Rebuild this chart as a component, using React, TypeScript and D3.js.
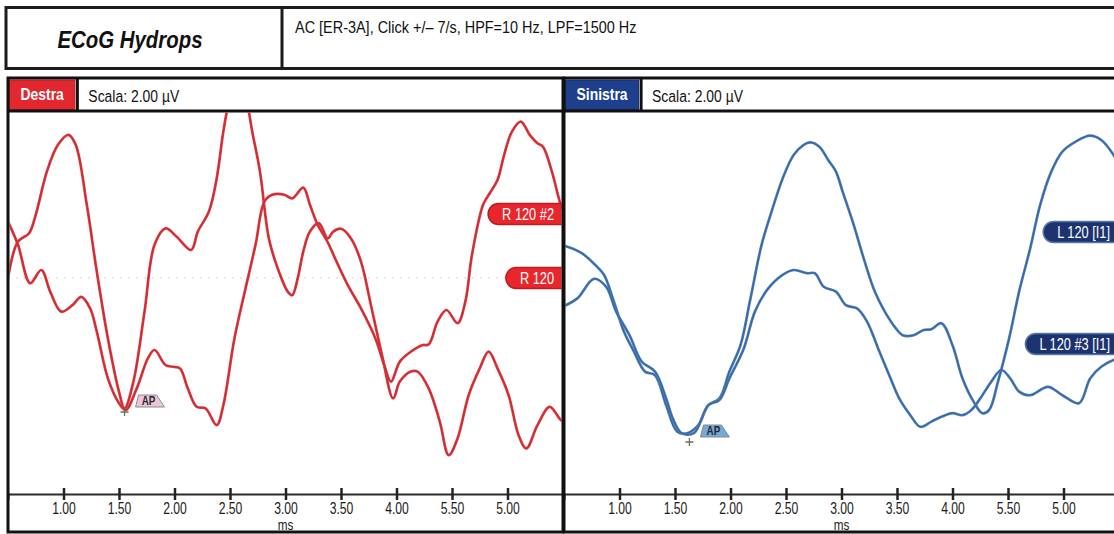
import React, { useEffect, useRef } from 'react';
import * as d3 from 'd3';

const W = 1114;
const H = 534;

// x ticks in ms and the labels printed under them (copied as printed)
const tickValues = [1, 1.5, 2, 2.5, 3, 3.5, 4, 4.5, 5];
const tickLabels = ['1.00', '1.50', '2.00', '2.50', '3.00', '3.50', '4.00', '5.50', '5.00'];

const titleText = 'ECoG Hydrops';
const stimText = 'AC [ER-3A], Click +/\u2013 7/s, HPF=10 Hz, LPF=1500 Hz';
const scaleText = 'Scala: 2.00 \u00b5V';
const unitText = 'ms';

// Destra traces, [ms, µV]
const r120: [number, number][] = [
  [0.5, 0.29], [0.59, 1.21], [0.69, 1.42], [0.75, 1.88], [0.85, 2.96], [0.95, 3.63], [1.045, 3.88],
  [1.11, 3.63], [1.21, 2.13], [1.3, 0.46], [1.4, -1.21], [1.5, -2.54], [1.55, -2.96], [1.63, -2.29],
  [1.73, -0.54], [1.82, 1.13], [1.92, 1.54], [2.02, 1.33], [2.15, 1.0], [2.21, 1.46], [2.31, 1.96],
  [2.38, 2.79], [2.44, 3.96], [2.49, 4.7], [2.56, 5.3], [2.65, 4.7], [2.7, 3.96], [2.77, 2.96],
  [2.85, 1.29], [2.93, 0.54], [3.02, -0.04], [3.06, -0.13], [3.11, 0.29], [3.16, 0.96], [3.22, 1.46],
  [3.3, 1.67], [3.38, 1.29], [3.43, 1.46], [3.5, 1.53], [3.59, 1.29], [3.68, 0.71], [3.77, -0.38],
  [3.87, -1.63], [3.97, -2.71], [4.03, -2.29], [4.13, -2.04], [4.19, -2.04], [4.29, -2.46],
  [4.39, -3.29], [4.47, -4.13], [4.55, -3.71], [4.65, -2.63], [4.75, -1.96], [4.83, -1.54],
  [4.91, -1.96], [5.01, -2.63], [5.1, -3.63], [5.17, -3.96], [5.27, -3.38], [5.38, -2.92],
  [5.48, -3.25], [5.52, -3.3],
];
const r120n2: [number, number][] = [
  [0.5, 1.71], [0.59, 1.13], [0.7, 0.17], [0.8, 0.5], [0.88, -0.04], [0.98, -0.54], [1.08, -0.38],
  [1.16, -0.17], [1.24, -0.46], [1.3, -1.04], [1.4, -2.21], [1.5, -2.83], [1.56, -3.0], [1.66, -2.46],
  [1.76, -1.71], [1.82, -1.5], [1.92, -1.88], [1.99, -1.92], [2.05, -1.96], [2.12, -2.46],
  [2.2, -2.92], [2.28, -2.96], [2.38, -3.38], [2.44, -2.88], [2.54, -1.21], [2.64, 0.04],
  [2.73, 1.13], [2.81, 2.21], [2.88, 2.38], [2.99, 2.38], [3.06, 2.29], [3.16, 2.56], [3.22, 2.13],
  [3.29, 1.63], [3.37, 1.25], [3.46, 0.71], [3.56, 0.13], [3.68, -0.46], [3.81, -1.21],
  [3.89, -1.88], [3.95, -2.29], [4.03, -1.79], [4.13, -1.54], [4.23, -1.38], [4.29, -1.36],
  [4.37, -0.79], [4.45, -0.5], [4.55, -0.83], [4.62, -0.29], [4.68, 0.88], [4.78, 2.13],
  [4.84, 2.42], [4.91, 2.75], [4.97, 3.38], [5.04, 3.96], [5.12, 4.21], [5.2, 3.88], [5.27, 3.67],
  [5.32, 3.58], [5.4, 2.96], [5.48, 2.13], [5.52, 1.9],
];

// Sinistra traces, [ms, µV]
const l120: [number, number][] = [
  [0.5, 1.1], [0.53, 1.08], [0.66, 0.92], [0.78, 0.63], [0.86, 0.38], [0.94, -0.21], [1.04, -1.04],
  [1.13, -1.54], [1.23, -2.04], [1.32, -2.13], [1.42, -2.88], [1.52, -3.54], [1.61, -3.58],
  [1.71, -3.38], [1.8, -2.88], [1.9, -2.71], [1.99, -2.04], [2.09, -1.38], [2.18, -0.21],
  [2.28, 1.13], [2.37, 1.96], [2.47, 2.79], [2.57, 3.38], [2.66, 3.63], [2.72, 3.69], [2.8, 3.58],
  [2.88, 3.25], [2.95, 2.96], [3.01, 2.46], [3.11, 1.63], [3.2, 0.79], [3.3, -0.04], [3.39, -0.54],
  [3.49, -0.96], [3.55, -1.13], [3.65, -1.13], [3.74, -1.0], [3.81, -0.98], [3.9, -0.83],
  [4.0, -1.38], [4.09, -2.21], [4.19, -2.79], [4.27, -3.08], [4.33, -3.0], [4.41, -2.29],
  [4.51, -1.21], [4.6, -0.04], [4.7, 1.04], [4.79, 2.13], [4.89, 2.96], [4.99, 3.46], [5.11, 3.71],
  [5.24, 3.86], [5.34, 3.75], [5.45, 3.38], [5.52, 3.0],
];
const l120n3: [number, number][] = [
  [0.5, -0.4], [0.62, -0.21], [0.77, 0.28], [0.88, 0.08], [0.97, -0.54], [1.09, -1.13], [1.2, -1.79],
  [1.32, -2.04], [1.42, -2.71], [1.48, -3.21], [1.56, -3.58], [1.67, -3.58], [1.8, -2.88],
  [1.9, -2.75], [1.99, -2.21], [2.12, -1.46], [2.22, -0.54], [2.34, 0.04], [2.47, 0.38], [2.57, 0.5],
  [2.69, 0.42], [2.76, 0.42], [2.84, 0.08], [2.95, -0.04], [3.04, -0.38], [3.14, -0.46],
  [3.23, -0.79], [3.33, -1.46], [3.43, -2.13], [3.52, -2.71], [3.62, -3.13], [3.71, -3.42],
  [3.81, -3.29], [3.9, -3.17], [4.0, -3.08], [4.09, -3.13], [4.17, -3.0], [4.25, -2.71],
  [4.35, -2.29], [4.44, -2.0], [4.52, -2.21], [4.6, -2.54], [4.7, -2.63], [4.86, -2.42],
  [4.99, -2.63], [5.14, -2.83], [5.24, -2.21], [5.34, -1.92], [5.45, -1.75], [5.52, -1.7],
];

const panelNames = ['Destra', 'Sinistra'];
const traceNames = [['R 120', 'R 120 #2'], ['L 120 [I1]', 'L 120 #3 [I1]']];
// level (µV) where each trace tag sits on the right edge
const tagLevels = [[0.3, 1.9], [1.45, -1.35]];
// AP marker [ms, µV] per panel
const apPoints: [number, number][] = [[1.55, -3.05], [1.63, -3.8]];

const FONT = "'Liberation Sans', Arial, sans-serif";
const NARROW = 0.82; // squeeze to look like a condensed face

type Sel = d3.Selection<any, unknown, null, undefined>;

// text squeezed horizontally around its anchor point
function label(parent: Sel, x: number, y: number, str: string, size: number, o: any = {}) {
  const t = parent.append('text')
    .attr('transform', `translate(${x},${y}) scale(${o.sx ?? NARROW},1)`)
    .attr('font-family', FONT).attr('font-size', size)
    .attr('font-weight', o.weight ?? 'normal').attr('font-style', o.style ?? 'normal')
    .attr('text-anchor', o.anchor ?? 'start').attr('fill', o.fill ?? '#111')
    .text(str);
  return t;
}

const App = () => {
  const svgRef = useRef<SVGSVGElement>(null);

  useEffect(() => {
    const svg = d3.select(svgRef.current);
    svg.selectAll('*').remove();

    svg.append('rect').attr('width', W).attr('height', H).attr('fill', '#fff');

    // title box
    svg.append('rect').attr('x', 6).attr('y', 7.5).attr('width', 1130).attr('height', 61)
      .attr('fill', '#fff').attr('stroke', '#1c1c1c').attr('stroke-width', 3);
    svg.append('line').attr('x1', 282).attr('x2', 282).attr('y1', 7.5).attr('y2', 68.5)
      .attr('stroke', '#1c1c1c').attr('stroke-width', 3);
    label(svg, 130, 47.5, titleText, 24, { anchor: 'middle', weight: 'bold', style: 'italic', sx: 0.85 });
    label(svg, 295, 33, stimText, 17, { sx: 0.85 });

    const series = [[r120, r120n2], [l120, l120n3]];
    const panels = [
      { x0: 8, x1: 563, tag: '#e2282e', line: '#e3353b', core: '#8e2a2e', pill: '#e8262c', pillRim: '#b81c21', apFill: '#ebc6db' },
      { x0: 564, x1: 1119, tag: '#1e3f8c', line: '#4a7dbb', core: '#22406f', pill: '#1c3370', pillRim: '#5874ad', apFill: '#74a9dc' },
    ];
    const top = 78;
    const bottom = 532;
    const headBottom = 111;
    const axisY = 494;

    const yScale = d3.scaleLinear().domain([-5, 5]).range([490, 90]);

    panels.forEach((p, pi) => {
      const g = svg.append('g');
      const xScale = d3.scaleLinear().domain([0.5, 5.5]).range([p.x0, p.x1]);

      const clipId = `clip${pi}`;
      svg.append('clipPath').attr('id', clipId).append('rect')
        .attr('x', p.x0 + 1.5).attr('y', headBottom + 1.5)
        .attr('width', p.x1 - p.x0 - 3).attr('height', axisY - headBottom - 4);

      g.append('rect').attr('x', p.x0).attr('y', top).attr('width', p.x1 - p.x0)
        .attr('height', bottom - top).attr('fill', '#fff');

      // header row: coloured side tag + scale
      const tagBox = g.append('rect');
      const nameText = label(g, 0, 99.5, panelNames[pi], 17, { weight: 'bold', fill: '#fff', anchor: 'middle' });
      const nameW = (nameText.node() as SVGTextElement).getComputedTextLength() * NARROW;
      const tagW = nameW + 22;
      tagBox.attr('x', p.x0 + 1.5).attr('y', 80).attr('width', tagW)
        .attr('height', 29.5).attr('fill', p.tag).attr('stroke', d3.color(p.tag)!.darker(0.8).toString())
        .attr('stroke-width', 1);
      nameText.attr('transform', `translate(${p.x0 + 1.5 + tagW / 2},99.5) scale(${NARROW},1)`);
      const divX = p.x0 + 1.5 + tagW + 2.5;
      g.append('line').attr('x1', divX).attr('x2', divX).attr('y1', top).attr('y2', headBottom)
        .attr('stroke', '#111').attr('stroke-width', 3);
      label(g, divX + 11, 101.5, scaleText, 17);
      g.append('line').attr('x1', p.x0).attr('x2', p.x1).attr('y1', headBottom).attr('y2', headBottom)
        .attr('stroke', '#111').attr('stroke-width', 3);

      // x axis
      const axis = d3.axisBottom(xScale).tickValues(tickValues)
        .tickFormat((_d, i) => tickLabels[i]).tickSizeOuter(0).tickSize(6);
      const ag = g.append('g').attr('transform', `translate(0,${axisY})`).call(axis);
      ag.select('.domain').attr('stroke', '#2b2b2b').attr('stroke-width', 2);
      ag.selectAll('.tick line').attr('y1', -6).attr('y2', 6).attr('stroke', '#222').attr('stroke-width', 2.5);
      ag.selectAll('.tick text').attr('y', null).attr('dy', null)
        .attr('transform', `translate(0,20) scale(0.76,1)`)
        .attr('font-family', FONT).attr('font-size', 16).attr('fill', '#1a1a1a');
      label(g, xScale(3), 530, unitText, 15, { anchor: 'middle', fill: '#1a1a1a', sx: 0.78 });

      const plot = g.append('g').attr('clip-path', `url(#${clipId})`);

      // faint baseline of the first trace
      if (pi === 0) {
        plot.append('line').attr('x1', p.x0).attr('x2', p.x1).attr('y1', yScale(tagLevels[0][0]))
          .attr('y2', yScale(tagLevels[0][0])).attr('stroke', '#f1c3c6')
          .attr('stroke-width', 1).attr('stroke-dasharray', '2 6');
      }

      const line = d3.line<[number, number]>()
        .x((d) => xScale(d[0])).y((d) => yScale(d[1]))
        .curve(d3.curveCatmullRom.alpha(0.5));
      series[pi].forEach((s) => {
        plot.append('path').attr('d', line(s)).attr('fill', 'none')
          .attr('stroke', p.line).attr('stroke-width', 2.7).attr('stroke-linejoin', 'round');
        plot.append('path').attr('d', line(s)).attr('fill', 'none')
          .attr('stroke', p.core).attr('stroke-width', 0.8).attr('stroke-opacity', 0.55);
      });

      // AP marker
      const [ax, ay] = [xScale(apPoints[pi][0]), yScale(apPoints[pi][1])];
      plot.append('path').attr('d', `M${ax - 4},${ay}H${ax + 4}M${ax},${ay - 4}V${ay + 4}`)
        .attr('stroke', '#6b6f5a').attr('stroke-width', 1.3);
      plot.append('path')
        .attr('d', `M${ax + 11},${ay - 5}L${ax + 40},${ay - 5}L${ax + 32},${ay - 17}L${ax + 14},${ay - 17}Z`)
        .attr('fill', p.apFill).attr('stroke', '#8a8a8a').attr('stroke-width', 1);
      label(plot, ax + 24, ay - 7, 'AP', 12, { anchor: 'middle', weight: 'bold', fill: '#2a2a2a' });

      // trace tags
      traceNames[pi].forEach((name, ti) => {
        const cy = yScale(tagLevels[pi][ti]);
        const pill = plot.append('rect');
        const t = label(plot, p.x1 - 9, cy + 6, name, 16, { anchor: 'end', fill: '#fff', sx: 0.8 });
        const tw = (t.node() as SVGTextElement).getComputedTextLength() * 0.8;
        pill.attr('x', p.x1 - 9 - tw - 14).attr('y', cy - 10.5).attr('width', tw + 40)
          .attr('height', 21).attr('rx', 10.5).attr('fill', p.pill)
          .attr('stroke', p.pillRim).attr('stroke-width', 1.5);
      });

      g.append('rect').attr('x', p.x0).attr('y', top).attr('width', p.x1 - p.x0)
        .attr('height', bottom - top).attr('fill', 'none').attr('stroke', '#111').attr('stroke-width', 3);
    });
  }, []);

  return (
    <svg ref={svgRef} width={W} height={H} style={{ position: 'absolute', left: 0, top: 0 }} />
  );
};

export default App;
